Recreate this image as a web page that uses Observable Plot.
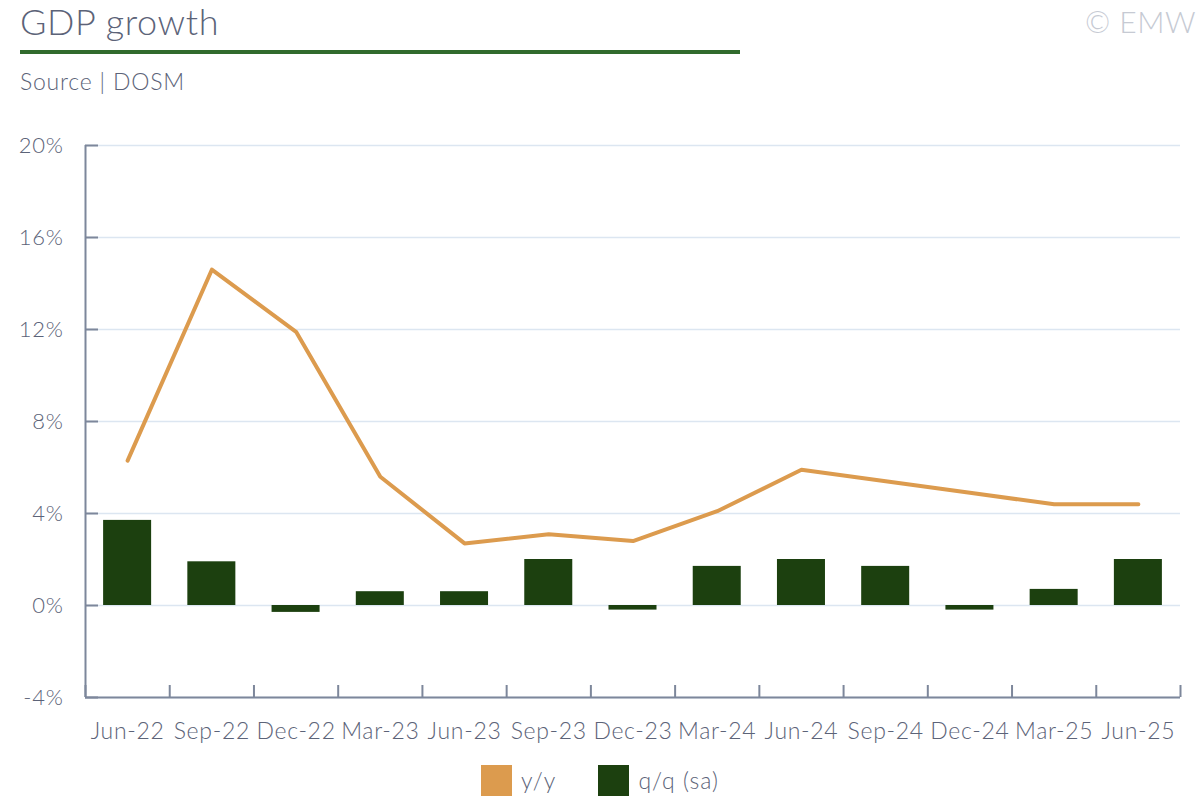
<!DOCTYPE html>
<html><head><meta charset="utf-8">
<script src="https://cdn.jsdelivr.net/npm/d3@7"></script>
<script src="https://cdn.jsdelivr.net/npm/@observablehq/plot@0.6"></script>
<style>
body{margin:0;background:#fff;font-family:Lato, "Open Sans", sans-serif;font-weight:300;color:#5c6378;}
#wrap{position:relative;width:1200px;height:800px;overflow:hidden;}
#header{position:relative;height:110px;}
#title{position:absolute;left:20px;top:1px;font-size:36px;line-height:40px;letter-spacing:0.6px;color:#5c6378;}
#rule{position:absolute;left:20px;top:50px;width:720px;height:4px;background:#316b2d;}
#source{position:absolute;left:20px;top:67px;font-size:23px;line-height:28px;letter-spacing:0.8px;color:#5c6378;}
#copy{position:absolute;right:4px;top:2px;font-size:30px;line-height:38px;letter-spacing:0.5px;color:#c6cad3;}
#chart{height:650px;}
#legend{display:flex;justify-content:center;align-items:center;height:40px;font-size:23px;letter-spacing:1px;color:#5c6378;}
.item{display:flex;align-items:center;margin:0 21px;}
.sw{width:31px;height:31px;margin-right:9px;}
</style></head><body>
<div id="wrap">
<div id="header">
 <div id="title">GDP growth</div>
 <div id="rule"></div>
 <div id="source">Source | DOSM</div>
 <div id="copy">© EMW</div>
</div>
<div id="chart"></div>
<div id="legend"></div>
</div>
<script>
const quarters = ["Jun-22","Sep-22","Dec-22","Mar-23","Jun-23","Sep-23","Dec-23","Mar-24","Jun-24","Sep-24","Dec-24","Mar-25","Jun-25"];
const yoy = [6.3, 14.6, 11.9, 5.6, 2.7, 3.1, 2.8, 4.1, 5.9, 5.4, 4.9, 4.4, 4.4];
const qoq = [3.7, 1.9, -0.3, 0.6, 0.6, 2.0, -0.2, 1.7, 2.0, 1.7, -0.2, 0.7, 2.0];
const yTicks = [-4, 0, 4, 8, 12, 16, 20];
const seriesNames = ["y/y", "q/q (sa)"];
const colors = {yoy: "#dc9b4e", qoq: "#1c400f"};

const data = quarters.map((q, i) => ({q, i, yoy: yoy[i], qoq: qoq[i]}));
const axisColor = "#7d879b";
const textColor = "#5c6378";

const chart = Plot.plot({
  width: 1200,
  height: 650,
  marginTop: 35,
  marginBottom: 63,
  marginLeft: 85,
  marginRight: 20,
  style: {fontFamily: "Lato, 'Open Sans', sans-serif", fontWeight: 300, fontSize: "21px", color: textColor, background: "#fff", letterSpacing: "0.7px"},
  x: {domain: [0, quarters.length], axis: null},
  y: {domain: [-4, 20], axis: null},
  marks: [
    Plot.gridY(yTicks, {stroke: "#dce6f1", strokeOpacity: 1, strokeWidth: 1.5}),
    Plot.rect(data, {x1: d => d.i + 0.215, x2: d => d.i + 0.785, y1: 0, y2: "qoq", fill: colors.qoq}),
    Plot.line(data, {x: d => d.i + 0.5, y: "yoy", stroke: colors.yoy, strokeWidth: 4}),
    Plot.ruleX([0], {stroke: axisColor, strokeWidth: 2}),
    Plot.ruleY([-4], {stroke: axisColor, strokeWidth: 2}),
    Plot.axisY(yTicks, {tickSize: -13, tickFormat: () => "", stroke: axisColor, strokeWidth: 2}),
    Plot.axisY(yTicks, {tickSize: 0, tickPadding: 22, tickFormat: d => d + "%", fill: textColor, fontSize: 22}),
    Plot.axisX(d3.range(quarters.length + 1), {tickSize: -12, tickFormat: () => "", stroke: axisColor, strokeWidth: 2}),
    Plot.axisX(d3.range(quarters.length).map(i => i + 0.5), {tickSize: 0, tickPadding: 25, tickFormat: d => quarters[Math.floor(d)], fill: textColor, fontSize: 23})
  ]
});
document.getElementById("chart").append(chart);

const legend = document.getElementById("legend");
[[seriesNames[0], colors.yoy], [seriesNames[1], colors.qoq]].forEach(([name, c]) => {
  const it = document.createElement("div");
  it.className = "item";
  const sw = document.createElement("div");
  sw.className = "sw";
  sw.style.background = c;
  const t = document.createElement("span");
  t.textContent = name;
  it.append(sw, t);
  legend.append(it);
});
</script>
</body></html>
